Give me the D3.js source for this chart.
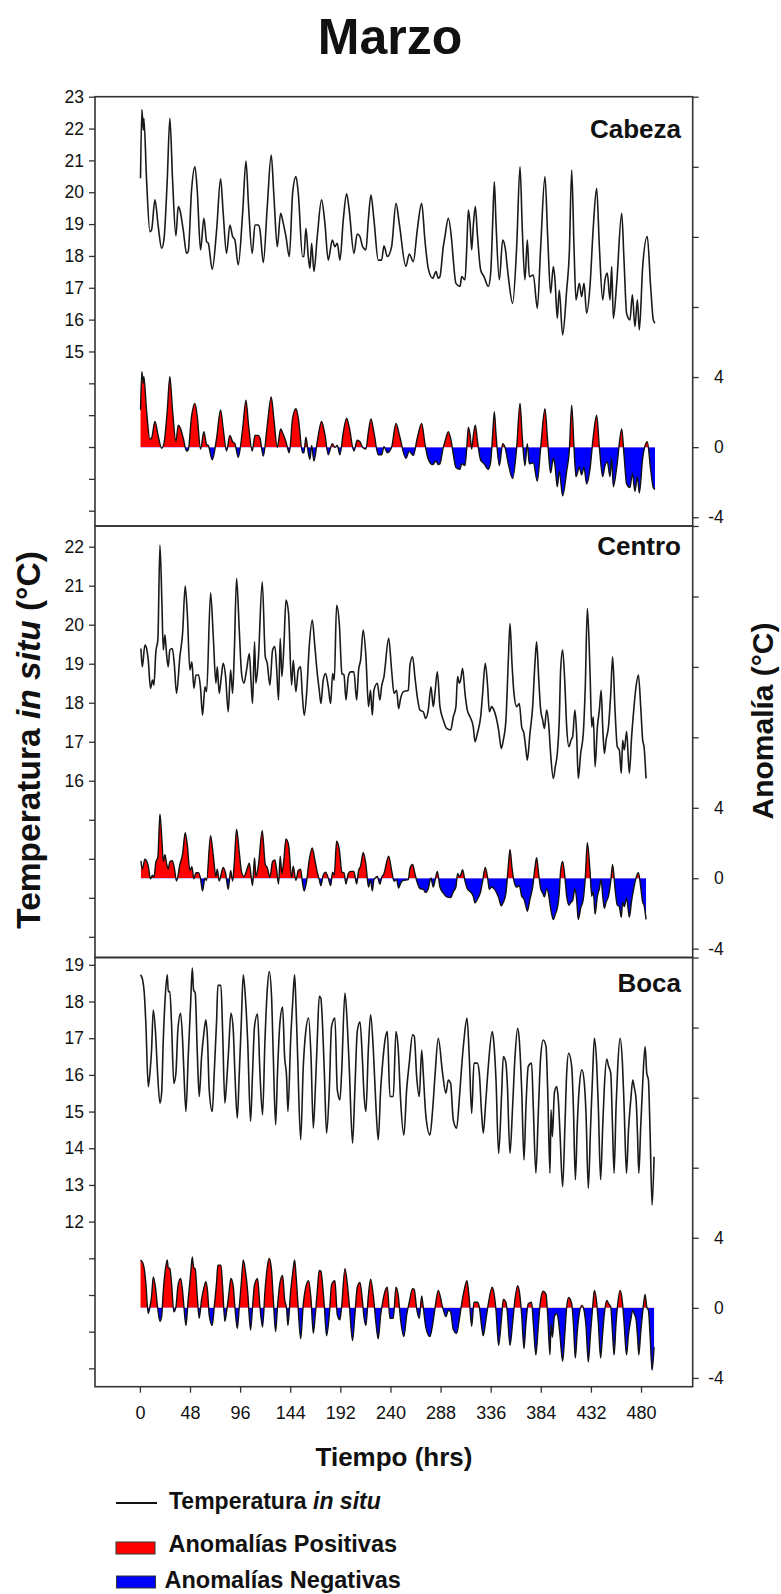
<!DOCTYPE html>
<html>
<head>
<meta charset="utf-8">
<script src="https://cdn.jsdelivr.net/npm/d3@7"></script>
<style>
  html, body { margin: 0; padding: 0; background: #fff; }
  svg { display: block; font-family: Arial, "Liberation Sans", sans-serif; }
</style>
</head>
<body>
<svg id="chart" width="781" height="1594"></svg>
<script>
// Hourly in situ temperature, March, at three stations: [hour, °C]
const cabezaTemp = [[0.6,20.44],[1.9,22.6],[3.2,21.95],[3.8,22.32],[6.4,20.38],[9.6,18.76],[11.2,18.82],[14.4,19.76],[17.6,18.92],[20.8,18.24],[23.0,18.5],[26.2,20.38],[28.7,22.32],[31.3,20.38],[34.5,18.63],[36.7,19.55],[38.3,19.44],[41.5,18.82],[44.7,18.08],[46.3,18.14],[49.5,20.07],[52.7,20.8],[54.9,20.07],[58.1,18.19],[61.3,19.18],[63.9,18.45],[65.5,18.4],[69.3,17.58],[73.5,18.82],[77.3,20.42],[79.8,19.34],[83.0,18.08],[86.2,18.97],[88.8,18.61],[91.0,18.5],[94.2,17.72],[98.4,19.34],[101.6,20.98],[104.1,19.55],[107.6,18.08],[110.2,18.97],[113.4,18.97],[115.0,18.82],[118.2,17.79],[122.0,19.55],[125.8,21.17],[128.4,19.86],[131.6,18.29],[134.8,19.34],[137.3,19.03],[139.9,18.61],[143.1,17.98],[146.3,19.97],[149.5,20.49],[151.7,19.97],[155.8,17.98],[157.1,17.98],[159.0,18.87],[161.3,17.98],[162.9,17.61],[164.5,18.4],[166.7,17.51],[169.9,18.61],[174.0,19.76],[177.2,19.03],[180.4,17.87],[184.3,18.5],[186.8,18.29],[189.1,18.4],[191.6,17.87],[194.8,19.13],[198.0,19.95],[200.5,19.44],[205.0,18.08],[208.2,18.69],[210.8,18.61],[213.3,18.29],[216.5,18.19],[218.8,19.13],[221.3,19.91],[224.2,19.13],[228.3,17.87],[231.5,17.87],[233.8,18.32],[237.0,17.98],[241.1,18.29],[245.3,19.65],[248.4,19.03],[254.8,17.67],[258.0,18.06],[261.9,17.82],[265.7,18.82],[269.9,19.65],[273.0,18.5],[276.2,17.61],[280.4,17.3],[283.6,17.51],[285.8,17.3],[287.4,17.35],[290.6,18.29],[292.2,18.61],[295.4,19.18],[298.6,18.5],[300.2,17.87],[302.7,17.14],[306.6,17.04],[308.2,17.35],[311.4,17.25],[313.0,18.19],[314.6,19.44],[316.2,19.03],[317.8,18.19],[319.3,18.92],[321.3,19.55],[323.2,18.71],[326.4,17.56],[329.6,17.35],[333.7,17.04],[336.0,17.46],[337.9,19.03],[339.5,20.33],[341.1,19.03],[344.3,17.25],[347.5,18.5],[349.7,18.29],[352.9,17.35],[357.0,16.51],[360.9,18.29],[364.1,20.8],[366.3,18.82],[368.8,17.25],[371.1,18.5],[373.0,17.35],[376.8,17.4],[380.7,16.36],[383.9,18.29],[388.0,20.49],[390.6,18.61],[393.4,16.83],[396.0,17.67],[397.6,17.25],[399.8,16.04],[401.7,16.93],[404.9,15.52],[408.8,16.93],[411.3,18.08],[413.6,20.7],[415.8,18.29],[417.7,16.62],[420.9,17.14],[423.1,16.72],[425.4,17.14],[427.9,16.2],[431.1,17.04],[434.3,18.92],[437.5,20.12],[440.1,18.29],[443.3,16.62],[445.5,17.25],[447.7,17.46],[450.3,16.62],[451.9,17.67],[453.5,16.04],[456.7,17.14],[461.5,19.34],[463.7,17.87],[466.2,16.2],[469.4,15.99],[471.7,16.78],[474.2,15.78],[476.5,16.62],[478.4,15.68],[481.6,17.67],[486.0,18.61],[489.2,17.04],[491.8,15.99],[493.4,15.89]];

const centroTemp = [[1.0,19.39],[2.3,18.92],[4.8,19.48],[6.4,19.39],[8.0,19.09],[10.2,18.37],[12.1,18.58],[13.4,18.45],[15.3,19.31],[17.2,19.61],[19.2,22.04],[21.1,20.55],[22.4,19.35],[24.0,19.74],[25.5,19.26],[27.1,18.92],[28.7,19.35],[31.0,19.39],[32.9,19.01],[35.1,18.24],[38.3,19.18],[40.9,19.78],[43.4,20.99],[45.4,20.29],[47.9,18.84],[49.8,19.05],[51.7,18.37],[53.7,18.71],[56.2,18.71],[58.1,18.37],[60.0,17.68],[62.3,18.41],[63.9,18.28],[67.7,20.82],[70.3,19.69],[72.8,18.5],[74.1,18.92],[76.0,18.24],[78.0,18.67],[79.8,19.01],[82.1,18.67],[84.6,17.77],[86.9,18.84],[88.8,18.24],[90.4,19.26],[92.6,21.19],[95.2,19.86],[97.4,18.75],[99.6,18.5],[102.2,18.84],[104.8,19.26],[106.4,18.58],[107.9,17.98],[109.8,19.56],[111.1,18.5],[113.4,19.09],[117.2,21.1],[120.1,19.18],[122.0,19.01],[124.5,18.45],[127.1,19.35],[129.3,19.44],[130.9,18.92],[132.8,18.07],[134.4,19.65],[136.0,18.67],[137.9,19.44],[139.9,20.63],[142.4,20.29],[145.3,18.45],[146.9,19.09],[149.4,18.28],[151.7,18.84],[153.9,18.92],[155.5,18.24],[157.4,17.68],[159.7,18.24],[162.2,19.44],[165.1,20.12],[167.6,19.44],[169.9,18.75],[171.8,18.32],[173.4,17.98],[175.6,18.58],[177.9,18.75],[180.4,18.41],[182.7,17.98],[184.6,18.75],[186.2,18.58],[188.4,20.5],[191.0,20.03],[193.5,18.75],[195.5,18.71],[197.4,18.07],[199.6,18.67],[201.9,18.79],[205.0,18.79],[207.6,18.07],[209.5,18.84],[211.4,19.09],[213.9,19.86],[216.5,19.18],[219.0,17.9],[220.9,18.32],[222.6,17.68],[224.2,18.32],[227.4,18.5],[229.9,18.07],[231.5,18.41],[233.8,18.67],[238.3,19.65],[241.1,18.84],[243.4,18.24],[245.9,18.32],[247.8,17.85],[249.7,18.11],[252.3,18.28],[257.1,18.32],[258.7,18.97],[261.2,19.18],[263.4,18.67],[265.7,18.15],[268.3,17.81],[271.4,17.77],[273.7,17.6],[276.2,17.81],[278.8,18.41],[281.0,17.9],[282.6,18.24],[284.9,18.79],[287.4,17.9],[290.6,17.56],[293.9,17.34],[297.6,17.3],[300.2,17.64],[302.7,17.9],[304.3,18.67],[306.0,18.5],[307.2,18.58],[309.1,18.88],[311.4,18.24],[313.6,17.81],[316.2,17.64],[319.3,17.38],[321.0,17.0],[323.2,17.21],[326.4,17.64],[328.3,18.24],[330.8,19.01],[333.1,18.41],[334.7,17.77],[336.9,17.9],[339.1,17.81],[341.1,17.64],[343.6,17.3],[346.2,16.83],[348.1,17.04],[350.6,17.56],[352.9,19.09],[354.5,20.03],[356.4,19.01],[358.3,18.24],[360.9,17.9],[363.4,17.98],[365.7,17.38],[367.9,17.21],[369.8,16.79],[371.1,16.53],[373.6,17.21],[376.2,17.9],[378.4,19.01],[380.0,19.56],[381.9,18.67],[383.9,17.81],[385.8,17.56],[387.4,17.34],[389.6,17.81],[391.5,17.47],[393.4,16.7],[396.0,16.06],[397.9,16.36],[399.8,16.7],[401.7,17.56],[403.0,18.84],[404.9,19.35],[406.9,18.58],[408.8,17.38],[411.0,16.87],[412.9,17.04],[414.5,17.13],[416.7,17.81],[418.3,17.21],[419.9,16.06],[422.2,16.7],[424.7,17.21],[426.6,18.41],[428.6,20.42],[431.1,18.84],[432.8,17.38],[434.3,17.64],[436.0,16.36],[438.2,17.38],[440.1,17.81],[441.8,18.32],[443.3,17.38],[444.9,16.7],[446.5,17.04],[448.8,17.38],[451.0,18.24],[452.8,19.18],[455.1,17.81],[457.3,16.87],[459.2,16.79],[461.1,16.19],[462.4,17.04],[464.0,16.79],[466.2,17.26],[468.8,16.19],[471.0,17.13],[473.3,17.9],[475.2,18.41],[477.5,18.71],[479.7,17.9],[481.6,17.04],[482.9,16.87],[484.8,16.06]];

const bocaTemp = [[0.6,18.73],[2.6,18.59],[4.2,18.23],[5.7,17.41],[8.0,15.68],[9.6,16.05],[11.2,16.68],[12.8,17.77],[15.0,17.14],[16.6,16.23],[19.2,15.23],[20.8,15.5],[22.4,16.95],[24.3,18.14],[26.2,18.73],[27.2,18.27],[28.7,18.27],[30.3,17.41],[32.5,15.77],[34.5,16.05],[36.4,17.23],[39.0,17.68],[40.9,16.95],[42.2,16.05],[44.1,15.0],[46.3,16.5],[48.6,17.95],[50.2,18.91],[51.4,18.32],[53.0,18.23],[54.9,16.68],[56.8,15.41],[59.1,16.5],[61.3,17.14],[63.2,17.5],[64.8,16.95],[66.4,15.59],[69.3,15.0],[71.2,16.05],[73.5,17.5],[74.7,18.44],[77.6,18.44],[79.2,17.23],[81.4,15.23],[83.0,15.77],[85.0,16.68],[87.2,17.68],[89.4,17.23],[91.0,16.05],[93.3,14.82],[95.2,16.05],[97.1,17.41],[99.0,18.73],[101.2,18.05],[103.2,16.95],[106.0,14.73],[107.9,16.05],[109.8,17.32],[112.7,17.66],[115.0,16.05],[117.5,14.91],[119.8,16.95],[122.0,18.32],[123.9,18.82],[126.1,18.14],[127.7,16.59],[130.0,14.64],[131.9,16.14],[134.1,17.41],[136.7,17.85],[138.6,16.5],[140.5,15.95],[141.8,15.0],[144.4,16.95],[146.3,17.95],[148.2,18.73],[149.5,17.91],[151.1,16.5],[154.0,14.23],[156.5,16.23],[158.7,17.14],[161.6,17.55],[163.9,16.5],[166.1,14.55],[168.0,15.59],[169.9,16.95],[171.8,18.14],[173.4,18.09],[174.4,17.68],[176.7,16.05],[178.8,14.41],[181.4,15.59],[183.6,17.32],[186.8,17.55],[189.1,15.59],[191.6,15.32],[193.2,16.05],[196.4,18.23],[198.6,17.41],[200.5,16.23],[203.7,14.14],[205.9,15.59],[208.2,17.18],[210.8,17.45],[213.0,16.5],[214.6,15.5],[216.5,15.0],[218.8,16.68],[221.0,17.64],[223.6,16.68],[226.1,15.14],[228.3,14.23],[230.6,15.59],[232.5,16.32],[234.8,16.95],[237.0,17.18],[239.5,15.41],[242.7,15.41],[245.3,17.18],[247.5,16.68],[249.7,15.32],[252.9,14.36],[255.5,15.59],[258.0,16.32],[261.2,17.09],[262.8,17.05],[265.1,15.95],[267.6,15.41],[269.9,16.68],[271.4,16.05],[274.0,14.86],[277.8,14.36],[280.4,15.05],[282.6,15.95],[285.8,17.0],[289.9,16.05],[293.1,15.5],[295.4,15.86],[297.6,15.77],[300.2,14.77],[303.4,14.55],[305.9,15.32],[308.2,16.23],[310.4,16.95],[313.3,17.55],[315.5,16.5],[317.8,14.95],[320.0,16.32],[323.2,16.32],[325.1,16.05],[327.3,14.95],[328.9,14.41],[331.2,15.23],[333.7,16.23],[337.5,17.18],[339.1,16.86],[341.1,15.86],[343.6,13.86],[346.5,15.5],[348.1,16.5],[350.6,16.32],[351.9,15.77],[354.5,13.86],[357.0,15.14],[359.3,16.5],[361.8,17.27],[363.4,16.95],[365.7,15.59],[367.9,13.68],[369.8,15.14],[372.0,16.23],[375.2,16.32],[376.8,15.14],[379.3,13.32],[381.6,14.95],[383.9,16.5],[386.4,16.95],[389.0,16.77],[390.6,15.59],[392.8,13.32],[393.8,15.05],[395.1,14.32],[397.0,15.5],[399.2,15.68],[400.8,15.32],[402.4,14.41],[404.9,12.95],[407.2,14.68],[408.8,16.05],[410.7,16.59],[413.6,16.23],[415.2,15.14],[417.1,13.14],[419.0,14.68],[420.9,15.68],[423.4,16.14],[425.7,15.77],[427.3,14.95],[429.5,12.91],[431.7,14.59],[433.7,16.05],[435.3,17.0],[437.5,16.32],[439.1,15.14],[441.3,13.14],[443.3,14.59],[444.9,15.68],[447.1,16.43],[449.0,16.23],[451.0,16.05],[452.6,14.68],[454.2,13.32],[456.1,15.14],[457.7,16.23],[460.0,17.0],[462.2,16.32],[463.8,15.14],[466.1,13.32],[468.0,14.5],[470.2,15.32],[472.1,15.86],[473.4,15.68],[475.3,15.32],[476.6,14.41],[477.9,13.32],[479.7,14.59],[481.6,15.77],[483.9,16.77],[485.5,16.05],[487.1,15.86],[488.7,14.41],[490.6,12.45],[492.5,13.77]];

// Reference level of each station; anomaly = temperature - reference
const cabezaRef = 18.3;
const centroRef = 18.4;
const bocaRef = 16.0;

// Axis domains and labelled ticks
const timeDomain = [-43, 529.5];
const timeTicks = [0, 48, 96, 144, 192, 240, 288, 336, 384, 432, 480];
const cabezaDomain = [9.52, 23];
const centroDomain = [11.47, 22.53];
const bocaDomain = [7.5, 19.2];
const cabezaTickLabels = [15, 16, 17, 18, 19, 20, 21, 22, 23];
const centroTickLabels = [16, 17, 18, 19, 20, 21, 22];
const bocaTickLabels = [12, 13, 14, 15, 16, 17, 18, 19];
const anomalyDomain = [-4.5, 20];
const anomalyTicks = [-4, 0, 4, 8, 12, 16, 20];
const anomalyTickLabels = ["-4", "0", "4"];
const stationNames = ["Cabeza", "Centro", "Boca"];

const svg = d3.select("#chart");
const FONT = 'Arial, "Liberation Sans", sans-serif';
const frameColor = "#333";

const left = 95, right = 692.7;
const x = d3.scaleLinear().domain(timeDomain).range([left, right]);

const panels = [
  { name: stationNames[0], temp: cabezaTemp, ref: cabezaRef, domain: cabezaDomain, labels: cabezaTickLabels, top: 96.7, bottom: 526, nameY: 137.5 },
  { name: stationNames[1], temp: centroTemp, ref: centroRef, domain: centroDomain, labels: centroTickLabels, top: 526, bottom: 957.5, nameY: 555 },
  { name: stationNames[2], temp: bocaTemp, ref: bocaRef, domain: bocaDomain, labels: bocaTickLabels, top: 957.5, bottom: 1386.7, nameY: 991.5 }
];

panels.forEach((p, i) => {
  const g = svg.append("g");
  const y = d3.scaleLinear().domain(p.domain).range([p.bottom, p.top]);
  const ya = d3.scaleLinear().domain(anomalyDomain).range([p.bottom, p.top]);
  const anomaly = p.temp.map(([h, t]) => [h, t - p.ref]);
  const zeroY = ya(0);

  // clip regions above and below the zero anomaly line
  const defs = g.append("defs");
  defs.append("clipPath").attr("id", "pos" + i).append("rect")
    .attr("x", left).attr("y", p.top).attr("width", right - left).attr("height", zeroY - p.top);
  defs.append("clipPath").attr("id", "neg" + i).append("rect")
    .attr("x", left).attr("y", zeroY).attr("width", right - left).attr("height", p.bottom - zeroY);

  const area = d3.area().curve(d3.curveMonotoneX)
    .x(d => x(d[0])).y0(zeroY).y1(d => ya(d[1]));
  g.append("path").datum(anomaly).attr("d", area)
    .attr("fill", "#ff0000").attr("clip-path", `url(#pos${i})`);
  g.append("path").datum(anomaly).attr("d", area)
    .attr("fill", "#0000ff").attr("clip-path", `url(#neg${i})`);
  const aLine = d3.line().curve(d3.curveMonotoneX).x(d => x(d[0])).y(d => ya(d[1]));
  g.append("path").datum(anomaly).attr("d", aLine)
    .attr("fill", "none").attr("stroke", "#111").attr("stroke-width", 1.4)
    .attr("stroke-linejoin", "round");

  // temperature line
  const tLine = d3.line().curve(d3.curveMonotoneX).x(d => x(d[0])).y(d => y(d[1]));
  g.append("path").datum(p.temp).attr("d", tLine)
    .attr("fill", "none").attr("stroke", "#1a1a1a").attr("stroke-width", 1.6)
    .attr("stroke-linejoin", "round");

  // left axis: a tick at every degree, labels on the upper part only
  const leftTicks = d3.range(Math.ceil(p.domain[0]), Math.floor(p.domain[1]) + 1);
  const leftAxis = d3.axisLeft(y).tickValues(leftTicks).tickSize(6).tickPadding(5)
    .tickFormat(d => p.labels.includes(d) ? String(d) : "");
  const la = g.append("g").attr("transform", `translate(${left},0)`).call(leftAxis);

  // right axis: anomaly
  const rightAxis = d3.axisRight(ya).tickValues(anomalyTicks).tickSize(6).tickPadding(5)
    .tickFormat(d => anomalyTickLabels.includes(String(d)) ? String(d) : "");
  const ra = g.append("g").attr("transform", `translate(${right},0)`).call(rightAxis);
  ra.selectAll("text").attr("text-anchor", "end").attr("x", 31);

  [la, ra].forEach(a => {
    a.select(".domain").remove();
    a.selectAll("line").attr("stroke", frameColor).attr("stroke-width", 1.3);
    a.selectAll("text").attr("font-family", FONT).attr("font-size", 17.5).attr("fill", "#111");
  });

  // panel frame
  g.append("rect").attr("x", left).attr("y", p.top)
    .attr("width", right - left).attr("height", p.bottom - p.top)
    .attr("fill", "none").attr("stroke", frameColor).attr("stroke-width", 1.6);

  g.append("text").attr("x", 681).attr("y", p.nameY).attr("text-anchor", "end")
    .attr("font-family", FONT).attr("font-size", 26).attr("font-weight", "bold")
    .attr("fill", "#111").text(p.name);
});

// time axis under the bottom panel
const bottom = panels[2].bottom;
const xa = svg.append("g").attr("transform", `translate(0,${bottom})`)
  .call(d3.axisBottom(x).tickValues(timeTicks).tickSize(6).tickPadding(14).tickFormat(d3.format("d")));
xa.select(".domain").remove();
xa.selectAll("line").attr("stroke", frameColor).attr("stroke-width", 1.3);
xa.selectAll("text").attr("font-family", FONT).attr("font-size", 18).attr("fill", "#111");

// titles
svg.append("text").attr("x", 390).attr("y", 54).attr("text-anchor", "middle")
  .attr("font-family", FONT).attr("font-size", 50).attr("font-weight", "bold")
  .attr("fill", "#111").text("Marzo");

svg.append("text").attr("x", 394).attr("y", 1466).attr("text-anchor", "middle")
  .attr("font-family", FONT).attr("font-size", 26).attr("font-weight", "bold")
  .attr("fill", "#111").text("Tiempo (hrs)");

const yTitle = svg.append("text").attr("transform", "translate(40,740) rotate(-90)")
  .attr("text-anchor", "middle").attr("font-family", FONT).attr("font-size", 33.5)
  .attr("font-weight", "bold").attr("fill", "#111");
yTitle.append("tspan").text("Temperatura ");
yTitle.append("tspan").attr("font-style", "italic").text("in situ");
yTitle.append("tspan").text(" (°C)");

svg.append("text").attr("transform", "translate(773,721) rotate(-90)")
  .attr("text-anchor", "middle").attr("font-family", FONT).attr("font-size", 30)
  .attr("font-weight", "bold").attr("fill", "#111").text("Anomalía (°C)");

// legend
const legend = svg.append("g").attr("font-family", FONT).attr("font-size", 23)
  .attr("font-weight", "bold").attr("fill", "#111");
legend.append("line").attr("x1", 116).attr("x2", 157).attr("y1", 1503).attr("y2", 1503)
  .attr("stroke", "#111").attr("stroke-width", 2);
const lt = legend.append("text").attr("x", 169).attr("y", 1509);
lt.append("tspan").text("Temperatura ");
lt.append("tspan").attr("font-style", "italic").text("in situ");
legend.append("rect").attr("x", 116).attr("y", 1542).attr("width", 39).attr("height", 12)
  .attr("fill", "#ff0000").attr("stroke", "#333").attr("stroke-width", 1);
legend.append("text").attr("x", 168.5).attr("y", 1552).attr("font-size", 23.5).text("Anomalías Positivas");
legend.append("rect").attr("x", 116.5).attr("y", 1576).attr("width", 39).attr("height", 12)
  .attr("fill", "#0000ff").attr("stroke", "#333").attr("stroke-width", 1);
legend.append("text").attr("x", 164.5).attr("y", 1588).attr("font-size", 23.5).text("Anomalías Negativas");
</script>
</body>
</html>
